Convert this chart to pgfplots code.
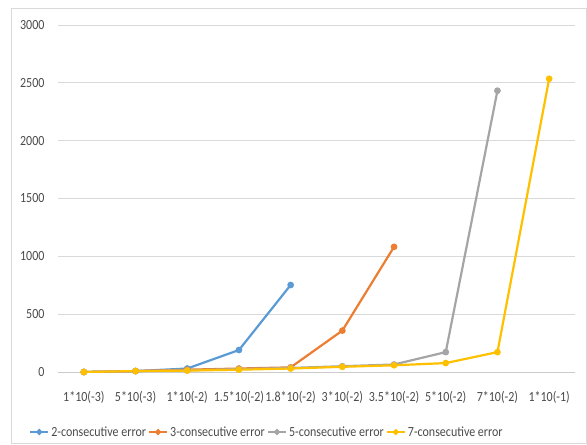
\documentclass[border=0pt]{standalone}
\usepackage{fontspec}
\setmainfont[FakeStretch=0.86]{Carlito}
\usepackage{pgfplots}
\pgfplotsset{compat=1.18}
\definecolor{cblue}{HTML}{5B9BD5}
\definecolor{corange}{HTML}{ED7D31}
\definecolor{cgray}{HTML}{A5A5A5}
\definecolor{cgold}{HTML}{FFC000}
\definecolor{txt}{HTML}{4A4A4A}
\definecolor{gridc}{HTML}{D9D9D9}
\begin{document}
\begin{tikzpicture}
\useasboundingbox (-58bp,-73bp) rectangle (529bp,372bp);
\draw[gridc, line width=0.8bp] (-47bp,-71bp) rectangle (528bp,364bp);
\begin{axis}[
  at={(0,0)}, anchor=south west,
  scale only axis,
  width=517bp, height=347bp,
  xmin=-0.5, xmax=9.5,
  ymin=0, ymax=3000,
  axis line style={draw=none},
  xtick={0,...,9},
  xticklabels={1*10(-3),5*10(-3),1*10(-2),1.5*10(-2),1.8*10(-2),3*10(-2),3.5*10(-2),5*10(-2),7*10(-2),1*10(-1)},
  ytick={0,500,...,3000},
  xmajorgrids=false,
  ymajorgrids=true,
  grid style={draw=gridc, line width=0.8bp},
  major tick length=0pt,
  tick label style={font=\fontsize{14}{16}\selectfont, text=txt},
  xticklabel style={anchor=center, yshift=-25bp},
  yticklabel style={anchor=east, xshift=-10bp},
  /pgf/number format/assume math mode=true,
  /pgf/number format/1000 sep={},
  every axis plot/.append style={line width=2.2bp, mark=*, mark size=2.2bp},
  legend style={at={(axis description cs:0.404,-0.173)}, anchor=center, draw=none, fill=none,
    legend columns=4, font=\fontsize{14}{16}\selectfont, text=txt,
    /tikz/every even column/.append style={column sep=0bp}},
  legend image code/.code={
    \draw[#1, mark=none] (0bp,0bp) -- (18bp,0bp);
    \fill[#1] (9bp,0bp) circle (1.8bp);},
]
\draw[gridc!85!gray, line width=0.8bp] (axis cs:-0.5,0) -- (axis cs:9.5,0);
\addplot[cblue, mark options={fill=cblue}] coordinates {
  (0,0) (1,8) (2,30) (3,190) (4,752)
};
\addplot[corange, mark options={fill=corange}] coordinates {
  (0,0) (1,8) (2,20) (3,30) (4,40) (5,358) (6,1082)
};
\addplot[cgray, mark options={fill=cgray}] coordinates {
  (0,0) (1,8) (2,15) (3,25) (4,35) (5,50) (6,65) (7,172) (8,2432)
};
\addplot[cgold, mark options={fill=cgold}] coordinates {
  (0,0) (1,8) (2,12) (3,20) (4,30) (5,45) (6,58) (7,77) (8,172) (9,2535)
};
\legend{2-consecutive error,3-consecutive error,5-consecutive error,7-consecutive error}
\end{axis}
\end{tikzpicture}
\end{document}
